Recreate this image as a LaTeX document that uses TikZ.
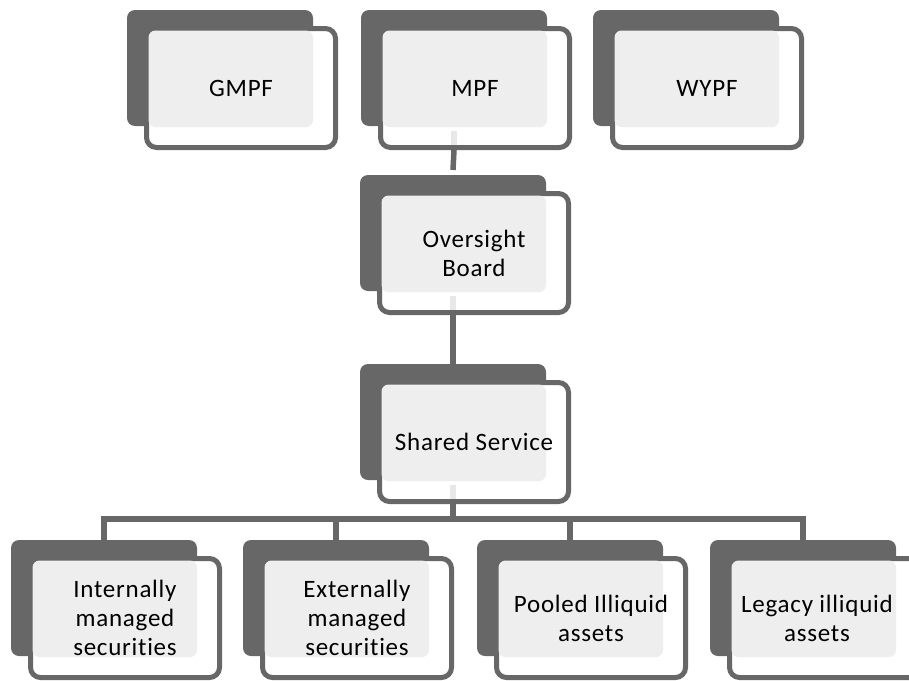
\documentclass[tikz,border=0pt]{standalone}
\usepackage{fontspec}
\setmainfont{Carlito}[LetterSpace=3,Ligatures={NoCommon}]
\usetikzlibrary{calc}
\definecolor{dk}{HTML}{676767}
\definecolor{lt}{HTML}{E8E8E8}
\definecolor{lf}{HTML}{EEEEEE}
\tikzset{
  darkbox/.style={fill=dk, draw=none, rounded corners=8pt, minimum width=186pt, minimum height=116pt, anchor=north west, inner sep=0pt, outer sep=0pt},
  outbox/.style={draw=dk, line width=5pt, fill=white, rounded corners=10pt, minimum width=189pt, minimum height=119pt, anchor=north west, inner sep=0pt, outer sep=0pt},
  litebox/.style={fill=lf, draw=none, rounded corners=7pt, minimum width=164.5pt, minimum height=96.5pt, anchor=north west, inner sep=0pt, outer sep=0pt},
  txt/.style={align=center, font=\fontsize{25pt}{29pt}\selectfont, text=black, inner sep=0pt},
  conn/.style={draw=dk, line width=5.5pt},
  connlt/.style={draw=lt, line width=5.5pt}
}
\newcommand\orgback[3]{\node[darkbox] (#1) at (#2,#3) {};}
\newcommand\orgfront[5]{%
  \node[outbox] (#1o) at (#2+19.5,#3+18.5) {};
  \node[litebox] (#1l) at (#2+21.5,#3+20.5) {};
  \node[txt] (#1t) at (#4,#3+78) {#5};
  \coordinate (#1b) at (#1.south |- #1o.south);}
\begin{document}
\begin{tikzpicture}[x=1pt,y=-1pt]
\useasboundingbox (0,0) rectangle (909,680);
\clip (0,0) rectangle (909,680);
% back boxes
\orgback{gmpf}{127}{10}
\orgback{mpf}{361}{10}
\orgback{wypf}{593}{10}
\orgback{ob}{360}{175}
\orgback{ss}{360}{364}
\orgback{ims}{11}{540}
\orgback{ems}{243}{540}
\orgback{pia}{477}{540}
\orgback{lia}{710}{540}
% front boxes
\orgfront{gmpf}{127}{10}{241}{GMPF}
\orgfront{mpf}{361}{10}{475}{MPF}
\orgfront{wypf}{593}{10}{707}{WYPF}
\orgfront{ob}{360}{175}{474}{Oversight\\Board}
\orgfront{ss}{360}{364}{474}{Shared Service}
\orgfront{ims}{11}{540}{125}{Internally\\managed\\securities}
\orgfront{ems}{243}{540}{357}{Externally\\managed\\securities}
\orgfront{pia}{477}{540}{591}{Pooled Illiquid\\assets}
\orgfront{lia}{710}{540}{817}{Legacy illiquid\\assets}
% connectors
\coordinate (busy) at (0,519);
\draw[connlt] ([yshift=-5pt]mpf.south) -- ([yshift=2.5pt]mpfb);
\draw[conn] ([yshift=-2.5pt]mpfb) -- ([yshift=5pt]ob.north);
\draw[connlt] ([yshift=-5pt]ob.south) -- ([yshift=2.5pt]obb);
\draw[conn] ([yshift=-2.5pt]obb) -- (ss.north);
\draw[connlt] ([yshift=-5pt]ss.south) -- ([yshift=2.5pt]ssb);
\draw[conn] ([yshift=-2.5pt]ssb) -- (ss.south |- busy);
\draw[conn] (ims.north) |- (busy -| lia.north) -- (lia.north);
\draw[conn] (ems.north) -- (ems.north |- busy);
\draw[conn] (pia.north) -- (pia.north |- busy);
\end{tikzpicture}
\end{document}
